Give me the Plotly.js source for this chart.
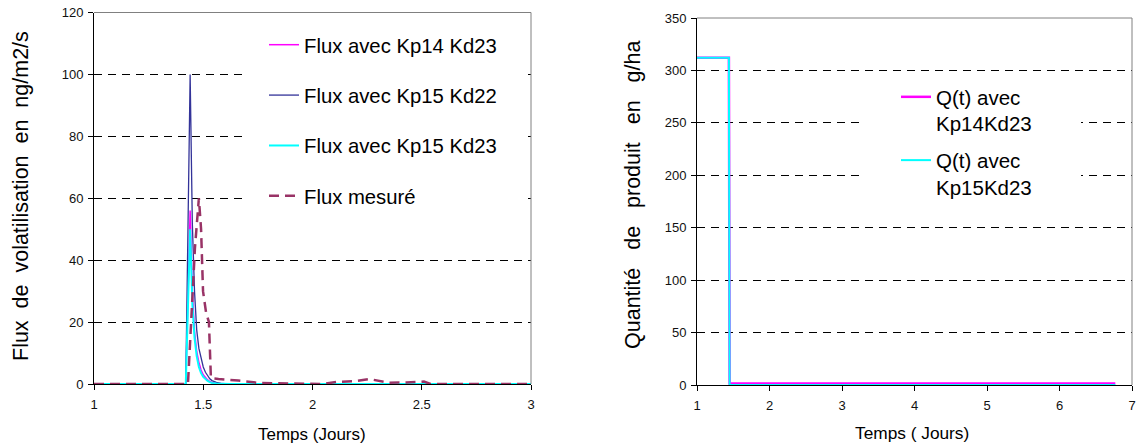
<!DOCTYPE html>
<html>
<head>
<meta charset="utf-8">
<script src="https://cdn.plot.ly/plotly-3.0.1.min.js"></script>
<style>html,body{margin:0;padding:0;background:#fff;}#chart{width:1136px;height:447px;}</style>
</head>
<body>
<div id="chart"></div>
<script>
// ---------- Left chart: volatilisation flux (ng/m2/s) ----------
const fluxNames = ["Flux avec Kp14 Kd23", "Flux avec Kp15 Kd22", "Flux avec Kp15 Kd23", "Flux mesuré"];

const tModel = [1, 1.42, 1.44, 1.45, 1.46, 1.47, 1.48, 1.49, 1.50, 1.51, 1.52, 1.53, 1.54, 1.56, 1.58, 1.62, 1.70, 3];
const fluxKp14Kd23 = [0, 0, 56, 30, 17, 10.5, 7, 4.5, 3, 2, 1.3, 0.8, 0.5, 0.25, 0.1, 0, 0, 0];
const fluxKp15Kd22 = [0, 0, 100, 52, 30, 17.5, 11.5, 8, 5.5, 3.8, 2.6, 1.7, 1.1, 0.5, 0.2, 0.05, 0, 0];
const fluxKp15Kd23 = [0, 0, 50, 26, 15, 9, 5.5, 3.5, 2.3, 1.5, 1, 0.6, 0.35, 0.15, 0.05, 0, 0, 0];

const tMesure = [1, 1.43, 1.462, 1.48, 1.49, 1.499, 1.513, 1.526, 1.535, 1.545, 1.57, 1.66, 1.76, 1.9, 2.05, 2.11, 2.19, 2.26, 2.35, 2.43, 2.51, 2.54, 3];
const fluxMesure = [0, 0, 44, 60, 50, 30, 23, 20, 2, 1.8, 1.6, 1.1, 0.3, 0.2, 0, 0.7, 0.9, 1.6, 0.4, 0.5, 0.8, 0, 0];

// ---------- Right chart: quantity of product (g/ha) ----------
const qNames = ["Q(t) avec<br>Kp14Kd23", "Q(t) avec<br>Kp15Kd23"];
const tQ = [1, 1.44, 1.45, 6.77];
const qKp14Kd23 = [312, 312, 1.5, 1.5];
const qKp15Kd23 = [312, 312, 0, 0];

const fluxColors = ["#FF00FF", "#333399", "#00FFFF", "#993366"];
const qColors = ["#FF00FF", "#00FFFF"];

const FONT = "'Liberation Sans', Arial, sans-serif";

const traces = [
  {x: tModel, y: fluxKp14Kd23, name: fluxNames[0], mode: "lines", line: {color: fluxColors[0], width: 1.5}, legend: "legend", legendgroup: "a"},
  {x: tModel, y: fluxKp15Kd22, name: fluxNames[1], mode: "lines", line: {color: fluxColors[1], width: 1.3}, legend: "legend", legendgroup: "b"},
  {x: tModel, y: fluxKp15Kd23, name: fluxNames[2], mode: "lines", line: {color: fluxColors[2], width: 2}, legend: "legend", legendgroup: "c"},
  {x: tMesure, y: fluxMesure, name: fluxNames[3], mode: "lines", line: {color: fluxColors[3], width: 2.5, dash: "10px,6px"}, legend: "legend", legendgroup: "d"},
  {x: tQ, y: qKp14Kd23, name: qNames[0], mode: "lines", line: {color: qColors[0], width: 2.5}, xaxis: "x2", yaxis: "y2", legend: "legend2", legendgroup: "e"},
  {x: tQ, y: qKp15Kd23, name: qNames[1], mode: "lines", line: {color: qColors[1], width: 2}, xaxis: "x2", yaxis: "y2", legend: "legend2", legendgroup: "f"}
];

const W = 1136, H = 447;
const px = v => v / W;
const py = v => (H - v) / H;

const axisCommon = {
  showline: true, linecolor: "#000", linewidth: 1,
  ticks: "outside", ticklen: 5, tickcolor: "#000", tickwidth: 1,
  zeroline: false, ticklabeloverflow: "allow",
  tickfont: {family: FONT, size: 13, color: "#111"}
};

const layout = {
  width: W, height: H,
  margin: {l: 0, r: 0, t: 0, b: 0},
  paper_bgcolor: "#fff", plot_bgcolor: "#fff",
  font: {family: FONT, color: "#000"},
  showlegend: true,
  xaxis: Object.assign({}, axisCommon, {domain: [px(94), px(531)], range: [1, 3], dtick: 0.5, tick0: 1, showgrid: false, anchor: "y", ticklabelstandoff: 3}),
  yaxis: Object.assign({}, axisCommon, {domain: [py(384), py(12.5)], range: [0, 120], dtick: 20, showgrid: true, gridcolor: "#000", gridwidth: 1, griddash: "8px,6px", anchor: "x", ticklabelstandoff: 2}),
  xaxis2: Object.assign({}, axisCommon, {domain: [px(697), px(1132)], range: [1, 7], dtick: 1, tick0: 1, showgrid: false, anchor: "y2", ticklabelstandoff: 3}),
  yaxis2: Object.assign({}, axisCommon, {domain: [py(385), py(18)], range: [0, 350], dtick: 50, showgrid: true, gridcolor: "#000", gridwidth: 1, griddash: "8px,6px", anchor: "x2", ticklabelstandoff: 2}),
  legend: {
    x: px(264), xanchor: "left", y: py(25), yanchor: "top",
    bgcolor: "rgba(0,0,0,0)", borderwidth: 0,
    font: {family: FONT, size: 20.3, color: "#000"},
    traceorder: "grouped", tracegroupgap: 21
  },
  legend2: {
    x: px(896), xanchor: "left", y: py(77), yanchor: "top",
    bgcolor: "rgba(0,0,0,0)", borderwidth: 0, valign: "top",
    font: {family: FONT, size: 20.5, color: "#000"},
    traceorder: "grouped", tracegroupgap: 7
  },
  shapes: [
    // white boxes behind the legends (hide the grid there)
    {type: "rect", xref: "x domain", yref: "y domain", x0: 0.3387, x1: 0.9863, y0: 0.4145, y1: 0.997, fillcolor: "#fff", line: {width: 0}, layer: "above"},
    {type: "rect", xref: "x2 domain", yref: "y2 domain", x0: 0.3747, x1: 0.8828, y0: 0.4905, y1: 0.8447, fillcolor: "#fff", line: {width: 0}, layer: "above"},
    // grey frame (top and right) of each plot area
    {type: "line", xref: "x domain", yref: "y domain", x0: 0, x1: 1, y0: 1, y1: 1, line: {color: "#808080", width: 1}},
    {type: "line", xref: "x domain", yref: "y domain", x0: 1, x1: 1, y0: 0, y1: 1, line: {color: "#808080", width: 1}},
    {type: "line", xref: "x2 domain", yref: "y2 domain", x0: 0, x1: 1, y0: 1, y1: 1, line: {color: "#808080", width: 1}},
    {type: "line", xref: "x2 domain", yref: "y2 domain", x0: 1, x1: 1, y0: 0, y1: 1, line: {color: "#808080", width: 1}}
  ],
  annotations: [
    {text: "Flux\u00a0\u00a0de\u00a0\u00a0volatilisation\u00a0\u00a0en\u00a0\u00a0ng/m2/s", xref: "paper", yref: "paper", x: px(21), y: py(196), xanchor: "center", yanchor: "middle", textangle: -90, showarrow: false, font: {family: FONT, size: 21.5, color: "#000"}},
    {text: "Quantité\u00a0\u00a0\u00a0de\u00a0\u00a0\u00a0produit\u00a0\u00a0\u00a0en\u00a0\u00a0\u00a0g/ha", xref: "paper", yref: "paper", x: px(633), y: py(195), xanchor: "center", yanchor: "middle", textangle: -90, showarrow: false, font: {family: FONT, size: 21.5, color: "#000"}},
    {text: "Temps (Jours)", xref: "paper", yref: "paper", x: px(312), y: py(434), xanchor: "center", yanchor: "middle", showarrow: false, font: {family: FONT, size: 17, color: "#000"}},
    {text: "Temps ( Jours)", xref: "paper", yref: "paper", x: px(912), y: py(433), xanchor: "center", yanchor: "middle", showarrow: false, font: {family: FONT, size: 17.3, color: "#000"}}
  ]
};

Plotly.newPlot("chart", traces, layout, {displayModeBar: false, staticPlot: true});
</script>
</body>
</html>
